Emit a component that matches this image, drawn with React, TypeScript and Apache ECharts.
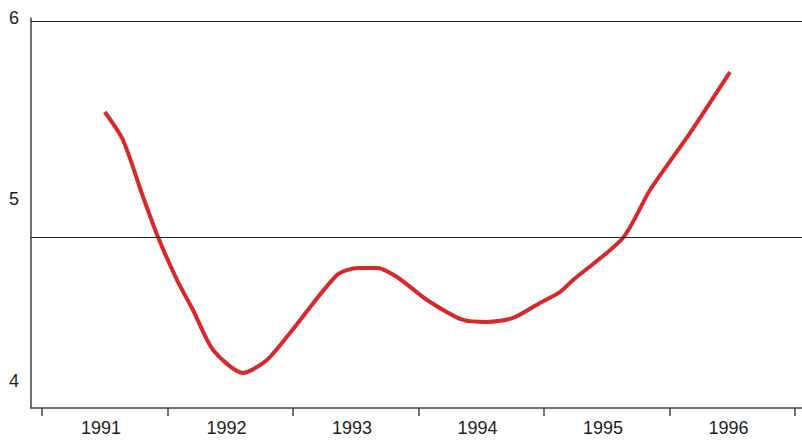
import React, { useEffect, useRef } from "react";
import * as echarts from "echarts";

const xValues = [
  1991.50, 1991.645, 1991.805, 1991.924, 1992.076, 1992.203, 1992.363, 1992.602,
  1992.793, 1992.976, 1993.351, 1993.518, 1993.669, 1993.829, 1994.068, 1994.355,
  1994.546, 1994.753, 1994.968, 1995.127, 1995.231, 1995.629, 1995.845, 1996.163, 1996.482,
];
const yValues = [
  5.482, 5.328, 5.014, 4.793, 4.556, 4.391, 4.171, 4.044,
  4.116, 4.264, 4.584, 4.623, 4.623, 4.573, 4.446, 4.336,
  4.325, 4.347, 4.430, 4.490, 4.556, 4.788, 5.052, 5.366, 5.702,
];
const yearTicks = [1991, 1992, 1993, 1994, 1995, 1996, 1997];
const yearLabels = [1991, 1992, 1993, 1994, 1995, 1996];
const yLabels = [4, 5, 6];
const refLevel = 4.79;
const frameTop = 5.983;

export default function App() {
  const ref = useRef<HTMLDivElement>(null);
  useEffect(() => {
    if (!ref.current) return;
    const chart = echarts.init(ref.current, undefined, { renderer: "svg" });
    const textStyle = { color: "#1e1e1e", fontSize: 18, fontFamily: "Liberation Sans" };
    chart.setOption({
      animation: false,
      backgroundColor: "#ffffff",
      grid: {
        left: 31,
        top: 18,
        right: 0,
        bottom: 33,
        show: false,
      },
      xAxis: {
        type: "value",
        min: 1990.912,
        max: 1997.056,
        axisLine: { show: true, onZero: false, lineStyle: { color: "#444", width: 1.5 } },
        axisTick: {
          show: true,
          customValues: yearTicks,
          length: 8,
          lineStyle: { color: "#444", width: 1.5 },
        },
        axisLabel: {
          customValues: yearLabels.map((y) => y + 0.47),
          formatter: (v: number) => String(Math.floor(v)),
          margin: 11,
          ...textStyle,
        },
        splitLine: { show: false },
      },
      yAxis: {
        type: "value",
        min: 3.851,
        max: 6,
        axisLine: { show: true, lineStyle: { color: "#444", width: 1.5 } },
        axisTick: { show: false },
        axisLabel: {
          customValues: yLabels,
          margin: 12,
          ...textStyle,
        },
        splitLine: { show: false },
      },
      series: [
        {
          type: "line",
          data: xValues.map((x, i) => [x, yValues[i]]),
          smooth: 0.25,
          showSymbol: false,
          lineStyle: { color: "#d7282a", width: 4 },
          markLine: {
            silent: true,
            symbol: "none",
            label: { show: false },
            lineStyle: { color: "#222", width: 1, type: "solid" },
            data: [{ yAxis: refLevel }, { yAxis: frameTop }],
          },
        },
      ],
    });
    return () => chart.dispose();
  }, []);
  return (
    <div
      ref={ref}
      style={{ position: "absolute", left: 0, top: 0, width: 802, height: 441 }}
    />
  );
}
